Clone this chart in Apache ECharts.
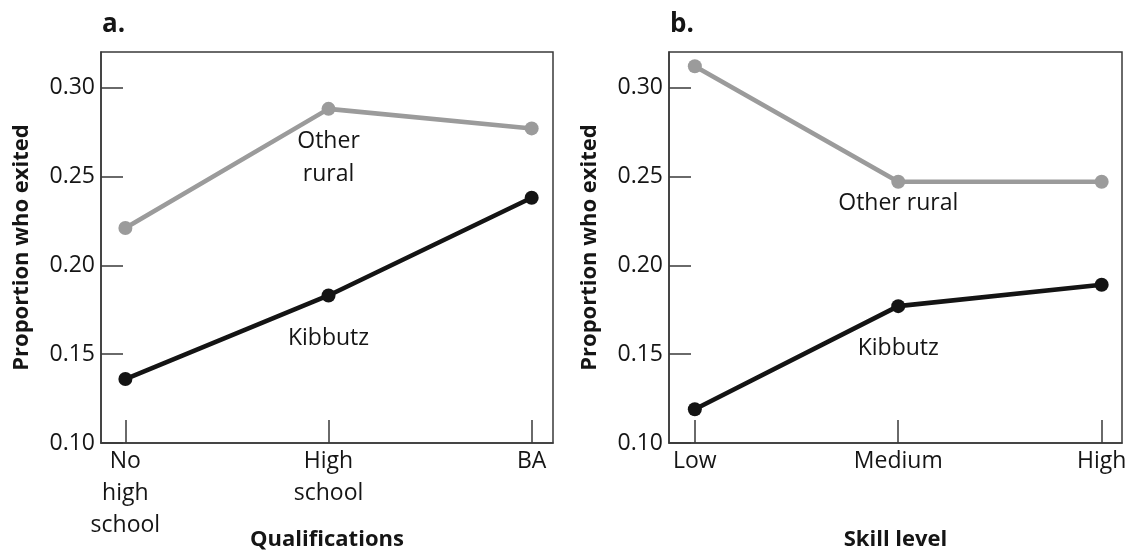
<!DOCTYPE html>
<html>
<head>
<meta charset="utf-8">
<script src="https://cdn.jsdelivr.net/npm/echarts@6/dist/echarts.min.js"></script>
<style>
  html, body { margin: 0; padding: 0; background: #fff; }
  #chart { width: 1132px; height: 550px; }
</style>
</head>
<body>
<div id="chart"></div>
<script>
// Panel a: exit proportion by qualifications
const qualCategories = ['No\nhigh\nschool', 'High\nschool', 'BA'];
const qualOtherRural = [0.221, 0.288, 0.277];
const qualKibbutz = [0.136, 0.183, 0.238];

// Panel b: exit proportion by skill level
const skillCategories = ['Low', 'Medium', 'High'];
const skillOtherRural = [0.312, 0.247, 0.247];
const skillKibbutz = [0.119, 0.177, 0.189];

const yTicks = [0.10, 0.15, 0.20, 0.25, 0.30];

const FONT = '"Open Sans", "Noto Sans", sans-serif';
const TEXT = '#151515';
const FRAME = '#3a3a3a';
const GRAY = '#9b9b9b';
const BLACK = '#141414';

function yAxisFor(gridIndex) {
  return {
    type: 'value', gridIndex: gridIndex,
    min: 0.10, max: 0.32,
    name: 'Proportion who exited', nameLocation: 'middle', nameGap: 68,
    nameMoveOverlap: false,
    nameTextStyle: { fontFamily: FONT, fontSize: 22, fontWeight: 'bold', color: TEXT },
    axisLine: { show: true, onZero: false, lineStyle: { color: FRAME, width: 1.5 } },
    axisTick: { show: true, inside: true, length: 22, lineStyle: { color: FRAME, width: 1.5 },
                customValues: yTicks },
    axisLabel: { fontFamily: FONT, fontSize: 23, color: TEXT, margin: 6,
                 customValues: yTicks, formatter: v => v.toFixed(2) },
    splitLine: { show: false }
  };
}

function xAxisFor(gridIndex, cats, title, min, max) {
  return {
    type: 'value', gridIndex: gridIndex,
    min: min, max: max,
    name: title, nameLocation: 'middle', nameGap: 86,
    nameMoveOverlap: false,
    nameTextStyle: { fontFamily: FONT, fontSize: 22, fontWeight: 'bold', color: TEXT },
    axisLine: { show: true, onZero: false, lineStyle: { color: FRAME, width: 1.5 } },
    axisTick: { show: true, inside: true, length: 23, lineStyle: { color: FRAME, width: 1.5 },
                customValues: [0, 1, 2] },
    axisLabel: { fontFamily: FONT, fontSize: 23, color: TEXT, margin: 2, lineHeight: 32,
                 verticalAlign: 'top',
                 customValues: [0, 1, 2], formatter: v => cats[Math.round(v)] },
    splitLine: { show: false }
  };
}

// Put the line's name as a text label under its middle point only
function seriesData(values, name, distance, lineHeight) {
  return values.map((v, i) => {
    if (i !== 1) return [i, v];
    return {
      value: [i, v],
      label: {
        show: true, position: 'bottom', distance: distance,
        formatter: name, fontFamily: FONT, fontSize: 23, color: TEXT,
        lineHeight: lineHeight, align: 'center'
      }
    };
  });
}

function lineSeries(idx, values, color, name, distance, lineHeight) {
  return {
    type: 'line', xAxisIndex: idx, yAxisIndex: idx,
    data: seriesData(values, name, distance, lineHeight),
    symbol: 'circle', symbolSize: 14,
    lineStyle: { color: color, width: 4.6 },
    itemStyle: { color: color },
    label: { show: false },
    animation: false, silent: true, z: color === GRAY ? 2 : 3
  };
}

const option = {
  backgroundColor: '#ffffff',
  animation: false,
  title: [
    { text: 'a.', left: 97, top: 7,
      textStyle: { fontFamily: FONT, fontSize: 26, fontWeight: 'bold', color: TEXT } },
    { text: 'b.', left: 665, top: 7,
      textStyle: { fontFamily: FONT, fontSize: 26, fontWeight: 'bold', color: TEXT } }
  ],
  grid: [
    { left: 101, right: 579, top: 52, bottom: 107, show: true, outerBoundsMode: 'none',
      borderColor: FRAME, borderWidth: 1.5, backgroundColor: 'transparent' },
    { left: 669, right: 10, top: 52, bottom: 107, show: true, outerBoundsMode: 'none',
      borderColor: FRAME, borderWidth: 1.5, backgroundColor: 'transparent' }
  ],
  xAxis: [
    xAxisFor(0, qualCategories, 'Qualifications', -0.12, 2.105),
    xAxisFor(1, skillCategories, 'Skill level', -0.127, 2.1)
  ],
  yAxis: [yAxisFor(0), yAxisFor(1)],
  series: [
    lineSeries(0, qualOtherRural, GRAY, 'Other\nrural', 9, 33),
    lineSeries(0, qualKibbutz, BLACK, 'Kibbutz', 24, 24),
    lineSeries(1, skillOtherRural, GRAY, 'Other rural', 3, 24),
    lineSeries(1, skillKibbutz, BLACK, 'Kibbutz', 23, 24)
  ]
};

const chart = echarts.init(document.getElementById('chart'), null, { renderer: 'canvas' });
chart.setOption(option);
</script>
</body>
</html>
